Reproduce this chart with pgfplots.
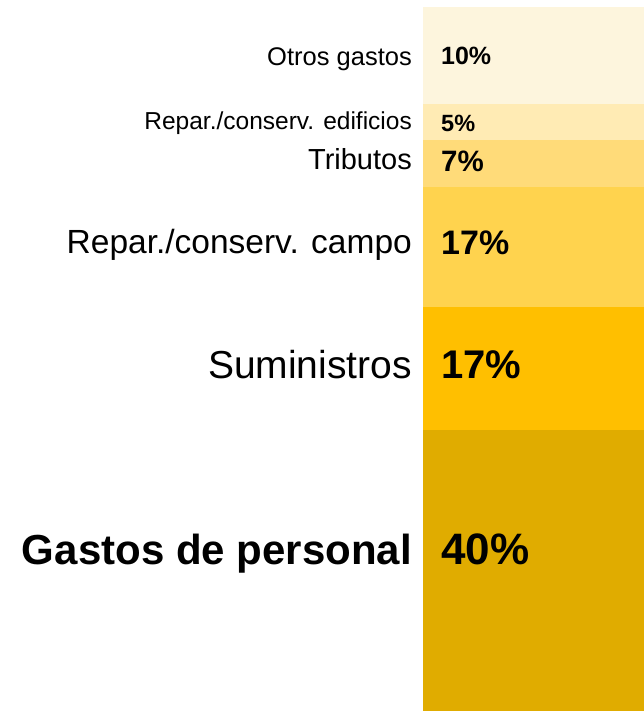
\documentclass[border=0pt]{standalone}
\usepackage{fontspec}
\setmainfont{Liberation Sans}
\usepackage{pgfplots}
\pgfplotsset{compat=1.18}

\definecolor{cPers}{HTML}{E0AC00}
\definecolor{cSumi}{HTML}{FFBF00}
\definecolor{cCamp}{HTML}{FFD34E}
\definecolor{cTrib}{HTML}{FFDB79}
\definecolor{cEdif}{HTML}{FFEBB4}
\definecolor{cOtro}{HTML}{FDF5DD}

\newcommand{\fs}[1]{\fontsize{#1bp}{1.2\dimexpr#1bp\relax}\selectfont}

\tikzset{
    catlab/.style={anchor=base east, inner sep=0pt, xshift=-11bp},
    pctlab/.style={anchor=base west, inner sep=0pt, xshift=18bp, font=\bfseries},
}

\begin{document}
\begin{tikzpicture}
\useasboundingbox (-423bp,0) rectangle (221bp,711bp);
\begin{axis}[
    at={(0,0)}, anchor=south west,
    scale only axis,
    width=221bp, height=704bp,
    hide axis,
    xmin=-0.5, xmax=0.5,
    ymin=0, ymax=100,
    ybar stacked,
    bar width=1,
    clip=false,
]
\addplot[fill=cPers, draw=none] coordinates {(0,39.9)};
\addplot[fill=cSumi, draw=none] coordinates {(0,17.5)};
\addplot[fill=cCamp, draw=none] coordinates {(0,17.0)};
\addplot[fill=cTrib, draw=none] coordinates {(0,6.7)};
\addplot[fill=cEdif, draw=none] coordinates {(0,5.1)};
\addplot[fill=cOtro, draw=none] coordinates {(0,13.8)};

\node[catlab] at (axis cs:-0.5,91.76) {\fs{25.5}Otros gastos};
\node[catlab] at (axis cs:-0.5,82.53) {\fs{24.5}Repar./conserv. edificios};
\node[catlab] at (axis cs:-0.5,76.95) {\fs{29}Tributos};
\node[catlab] at (axis cs:-0.5,65.00) {\fs{33.5}Repar./conserv. campo};
\node[catlab] at (axis cs:-0.5,47.30) {\fs{39}Suministros};
\node[catlab] at (axis cs:-0.5,20.88) {\fs{42}\bfseries Gastos de personal};

\coordinate (p1) at (axis cs:-0.5,91.80);
\coordinate (p2) at (axis cs:-0.5,82.30);
\coordinate (p3) at (axis cs:-0.5,76.70);
\coordinate (p4) at (axis cs:-0.5,64.80);
\coordinate (p5) at (axis cs:-0.5,47.16);
\coordinate (p6) at (axis cs:-0.5,20.88);
\end{axis}
\node[pctlab] at (p1) {\fs{25}10\%};
\node[pctlab] at (p2) {\fs{23.5}5\%};
\node[pctlab] at (p3) {\fs{29.5}7\%};
\node[pctlab] at (p4) {\fs{34}17\%};
\node[pctlab] at (p5) {\fs{40}17\%};
\node[pctlab] at (p6) {\fs{44}40\%};
\end{tikzpicture}
\end{document}
